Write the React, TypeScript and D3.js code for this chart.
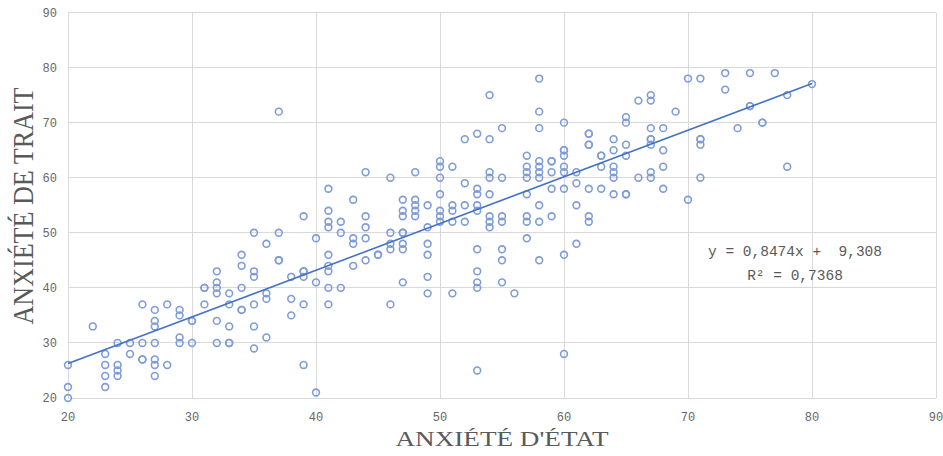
import React from 'react';
import * as d3 from 'd3';

// anxiété d'état (x) vs anxiété de trait (y), one entry per respondent
const etat = [
  20, 20, 20, 22, 23, 23, 23, 23, 24, 24, 24, 24, 25, 25, 26, 26, 26, 26,
  27, 27, 27, 27, 27, 27, 27, 28, 28, 29, 29, 29, 29, 30, 30, 30, 31, 31, 31,
  32, 32, 32, 32, 32, 32, 33, 33, 33, 33, 33, 34, 34, 34, 34, 34,
  35, 35, 35, 35, 35, 35, 36, 36, 36, 36, 37, 37, 37, 37, 38, 38, 38,
  39, 39, 39, 39, 39, 39, 40, 40, 40, 41, 41, 41, 41, 41, 41, 41, 41, 41,
  42, 42, 42, 43, 43, 43, 43, 44, 44, 44, 44, 44, 45, 45, 46, 46, 46, 46, 46,
  47, 47, 47, 47, 47, 47, 47, 47, 48, 48, 48, 48, 48, 49, 49, 49, 49, 49, 49,
  50, 50, 50, 50, 50, 50, 50, 51, 51, 51, 51, 51, 52, 52, 52, 52,
  53, 53, 53, 53, 53, 53, 53, 53, 53, 53, 54, 54, 54, 54, 54, 54, 54, 54,
  55, 55, 55, 55, 55, 55, 55, 56, 57, 57, 57, 57, 57, 57, 57, 57,
  58, 58, 58, 58, 58, 58, 58, 58, 58, 58, 59, 59, 59, 59, 59,
  60, 60, 60, 60, 60, 60, 60, 60, 60, 61, 61, 61, 61,
  62, 62, 62, 62, 62, 62, 62, 63, 63, 63, 63, 64, 64, 64, 64, 64, 64,
  65, 65, 65, 65, 65, 65, 66, 66, 67, 67, 67, 67, 67, 67, 67, 67,
  68, 68, 68, 68, 69, 70, 70, 71, 71, 71, 71, 71, 73, 73, 74, 75, 75, 75,
  76, 76, 77, 78, 78, 80,
];
const trait = [
  26, 22, 20, 33, 28, 26, 24, 22, 30, 26, 25, 24, 30, 28, 37, 30, 27, 27,
  36, 34, 33, 30, 27, 26, 24, 37, 26, 36, 35, 31, 30, 34, 34, 30, 40, 40, 37,
  43, 41, 40, 39, 34, 30, 39, 37, 33, 30, 30, 46, 44, 40, 36, 36,
  50, 43, 42, 37, 33, 29, 48, 39, 38, 31, 72, 50, 45, 45, 42, 38, 35,
  53, 43, 43, 42, 37, 26, 49, 41, 21, 58, 54, 52, 51, 46, 44, 43, 40, 37,
  52, 50, 40, 56, 49, 48, 44, 61, 53, 51, 49, 45, 46, 46, 60, 50, 48, 47, 37,
  56, 54, 53, 50, 50, 48, 47, 41, 61, 56, 55, 54, 53, 55, 51, 48, 46, 42, 39,
  63, 62, 60, 57, 54, 53, 52, 62, 55, 54, 52, 39, 67, 59, 55, 52,
  68, 58, 57, 55, 54, 47, 43, 41, 40, 25, 75, 67, 61, 60, 57, 53, 52, 51,
  69, 60, 53, 52, 47, 45, 41, 39, 64, 62, 61, 60, 57, 53, 52, 49,
  78, 72, 69, 63, 62, 61, 60, 55, 52, 45, 63, 63, 61, 58, 53,
  70, 65, 65, 64, 62, 61, 58, 46, 28, 61, 59, 55, 48,
  68, 68, 66, 66, 58, 53, 52, 64, 64, 62, 58, 67, 65, 62, 61, 60, 57,
  71, 70, 66, 64, 57, 57, 74, 60, 75, 74, 69, 67, 67, 66, 61, 60,
  69, 65, 62, 58, 72, 78, 56, 78, 67, 67, 66, 60, 79, 76, 69, 79, 73, 73,
  70, 70, 79, 75, 62, 77,
];
const ticks = [20, 30, 40, 50, 60, 70, 80, 90];
const slope = 0.8474;
const intercept = 9.308;
const trendRange = [20, 80];

const W = 943;
const H = 456;
const left = 68, right = 936, top = 12.5, bottom = 398;

export default function App() {
  const x = d3.scaleLinear().domain([20, 90]).range([left, right]);
  const y = d3.scaleLinear().domain([20, 90]).range([bottom, top]);
  const line = d3.line<number>()
    .x(d => x(d))
    .y(d => y(slope * d + intercept));
  const pts = etat.map((e, i) => [e, trait[i]]);

  return (
    <svg width={W} height={H} style={{ position: 'absolute', left: 0, top: 0, background: '#fff' }}>
      <g stroke="#d9d9d9" strokeWidth={1} shapeRendering="crispEdges">
        {ticks.map(t => (
          <line key={'h' + t} x1={left} x2={right} y1={y(t)} y2={y(t)} />
        ))}
        {ticks.map(t => (
          <line key={'v' + t} x1={x(t)} x2={x(t)} y1={top} y2={bottom} />
        ))}
      </g>
      <g fill="#666" fontFamily="Liberation Mono, monospace" fontSize={12}>
        {ticks.map(t => (
          <text key={'yl' + t} x={57} y={y(t)} dy="0.35em" textAnchor="end">{t}</text>
        ))}
        {ticks.map(t => (
          <text key={'xl' + t} x={x(t)} y={421} textAnchor="middle">{t}</text>
        ))}
      </g>
      <g fill="none" stroke="#7f9cd6" strokeWidth={1.6}>
        {pts.map((p, i) => (
          <circle key={i} cx={x(p[0])} cy={y(p[1])} r={3.4} />
        ))}
      </g>
      <path d={line(trendRange) || ''} fill="none" stroke="#4472c4" strokeWidth={1.6} />
      <g fill="#595959" fontFamily="Liberation Mono, monospace" fontSize={14.5} textAnchor="middle">
        <text x={795} y={256}>{'y = 0,8474x +\u00A0 9,308'}</text>
        <text x={795} y={280}>R² = 0,7368</text>
      </g>
      <text x={502} y={446} textAnchor="middle" fill="#595959"
        fontFamily="Liberation Serif, serif" fontSize={21}
        textLength={213} lengthAdjust="spacingAndGlyphs">ANXIÉTÉ D'ÉTAT</text>
      <text transform="translate(33,206) rotate(-90)" textAnchor="middle" fill="#595959"
        fontFamily="Liberation Serif, serif" fontSize={30}
        textLength={237} lengthAdjust="spacingAndGlyphs">ANXIÉTÉ DE TRAIT</text>
    </svg>
  );
}
